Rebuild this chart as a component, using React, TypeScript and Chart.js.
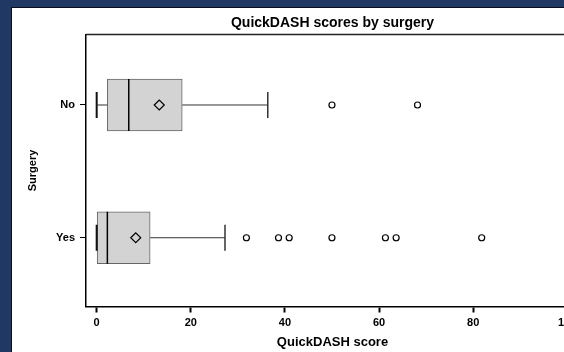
import React, { useEffect, useRef } from "react";
import { Chart, registerables } from "chart.js";

Chart.register(...registerables);

// ---- Data ----
const groups = ["No", "Yes"];
const groupPositions = [1, 0];
const q1Values = [2.27, 0];
const medianValues = [6.82, 2.27];
const q3Values = [18.18, 11.36];
const lowerWhiskers = [0, 0];
const upperWhiskers = [36.36, 27.27];
const meanValues = [13.3, 8.3];
const outliersNo = [50, 68.18];
const outliersYes = [31.82, 38.64, 40.91, 50, 61.36, 63.64, 81.82];
const xTickValues = [0, 20, 40, 60, 80, 100];

// ---- Styles ----
const FONT = '"Liberation Sans", Arial, Helvetica, sans-serif';
const BOX_HALF = 0.196;
const CAP_HALF = 0.098;

const framePlugin = {
  id: "frame",
  afterDraw(chart: any) {
    const { ctx, chartArea } = chart;
    const { left, right, top } = chartArea;
    ctx.save();
    ctx.strokeStyle = "#222";
    ctx.lineWidth = 1.5;
    ctx.beginPath();
    ctx.moveTo(left, top);
    ctx.lineTo(right, top);
    ctx.lineTo(right, chartArea.bottom);
    ctx.stroke();
    ctx.restore();
  },
};

function lineDs(data: any[], color: string, width: number) {
  return {
    type: "scatter" as const,
    data,
    showLine: true,
    pointRadius: 0,
    pointHoverRadius: 0,
    borderColor: color,
    borderWidth: width,
    borderCapStyle: "butt",
    fill: false,
    order: 2,
  };
}

export default function App() {
  const ref = useRef<HTMLCanvasElement | null>(null);

  useEffect(() => {
    if (!ref.current) return;
    Chart.defaults.font.family = FONT;
    Chart.defaults.color = "#000";

    const segments: any[] = [];
    groups.forEach((_g, i) => {
      const y = groupPositions[i];
      segments.push(lineDs([{ x: lowerWhiskers[i], y }, { x: q1Values[i], y }], "#333", 1));
      segments.push(lineDs([{ x: q3Values[i], y }, { x: upperWhiskers[i], y }], "#333", 1));
      segments.push(
        lineDs([{ x: lowerWhiskers[i], y: y - CAP_HALF }, { x: lowerWhiskers[i], y: y + CAP_HALF }], "#111", 2)
      );
      segments.push(
        lineDs([{ x: upperWhiskers[i], y: y - CAP_HALF }, { x: upperWhiskers[i], y: y + CAP_HALF }], "#333", 1.5)
      );
      segments.push(
        lineDs([{ x: medianValues[i], y: y - BOX_HALF }, { x: medianValues[i], y: y + BOX_HALF }], "#000", 1.5)
      );
    });

    const outlierPoints = [
      ...outliersNo.map((x) => ({ x, y: groupPositions[0] })),
      ...outliersYes.map((x) => ({ x, y: groupPositions[1] })),
    ];
    const meanPoints = meanValues.map((x, i) => ({ x, y: groupPositions[i] }));

    const chart = new Chart(ref.current, {
      type: "bar",
      data: {
        datasets: [
          {
            type: "bar",
            indexAxis: "y",
            data: groups.map((_g, i) => ({ x: [q1Values[i], q3Values[i]], y: groupPositions[i] })),
            backgroundColor: "#d3d3d3",
            borderColor: "#666",
            borderWidth: 1,
            borderSkipped: false,
            barThickness: 52,
            order: 3,
          } as any,
          ...segments,
          {
            type: "scatter",
            data: outlierPoints,
            pointStyle: "circle",
            pointRadius: 3,
            pointHoverRadius: 3,
            pointBorderWidth: 1.2,
            pointBorderColor: "#000",
            pointBackgroundColor: "#fff",
            showLine: false,
            order: 1,
          } as any,
          {
            type: "scatter",
            data: meanPoints,
            pointStyle: "rectRot",
            pointRadius: 5,
            pointHoverRadius: 5,
            pointBorderWidth: 1.2,
            pointBorderColor: "#000",
            pointBackgroundColor: "rgba(0,0,0,0)",
            showLine: false,
            order: 0,
          } as any,
        ],
      },
      options: {
        responsive: false,
        animation: false,
        layout: { padding: { left: 0, right: 23, top: 0, bottom: 0 } },
        plugins: {
          legend: { display: false },
          tooltip: { enabled: false },
          title: {
            display: true,
            text: "QuickDASH scores by surgery",
            fullSize: false,
            color: "#000",
            font: { size: 14, weight: "bold", family: FONT },
            padding: { top: 7.1, bottom: 2.6 },
          },
        },
        scales: {
          x: {
            type: "linear",
            position: "bottom",
            offset: false,
            beginAtZero: false,
            min: -2.27,
            max: 102.5,
            afterBuildTicks: (s: any) => {
              s.ticks = xTickValues.map((v) => ({ value: v }));
            },
            afterFit: (s: any) => {
              s.height = 53.5;
            },
            ticks: {
              color: "#000",
              font: { size: 11, weight: "bold", family: FONT },
              padding: 4,
              autoSkip: false,
              maxRotation: 0,
            },
            grid: {
              display: true,
              offset: false,
              drawOnChartArea: false,
              drawTicks: true,
              tickLength: 6,
              tickWidth: 2,
              tickColor: "#000",
            },
            border: { display: true, color: "#000", width: 1.5 },
            title: {
              display: true,
              text: "QuickDASH score",
              color: "#000",
              font: { size: 13, weight: "bold", family: FONT },
              padding: { top: 0, bottom: 10.2 },
            },
          },
          y: {
            type: "linear",
            position: "left",
            offset: false,
            beginAtZero: false,
            min: -0.518,
            max: 1.531,
            afterBuildTicks: (s: any) => {
              s.ticks = groupPositions.map((v) => ({ value: v }));
            },
            afterFit: (s: any) => {
              s.width = 74;
            },
            ticks: {
              color: "#000",
              font: { size: 11, weight: "bold", family: FONT },
              padding: 5,
              autoSkip: false,
              callback: (v: any) => {
                const idx = groupPositions.indexOf(Number(v));
                return idx >= 0 ? groups[idx] : "";
              },
            },
            grid: {
              display: true,
              offset: false,
              drawOnChartArea: false,
              drawTicks: true,
              tickLength: 6,
              tickWidth: 1,
              tickColor: "#000",
            },
            border: { display: true, color: "#000", width: 1.5 },
            title: {
              display: true,
              text: "Surgery",
              color: "#000",
              font: { size: 11, weight: "bold", family: FONT },
              padding: { top: 13.9, bottom: 0 },
            },
          },
        },
      } as any,
      plugins: [framePlugin],
    });

    return () => chart.destroy();
  }, []);

  return (
    <div
      style={{
        position: "fixed",
        left: 0,
        top: 0,
        width: 564,
        height: 352,
        overflow: "hidden",
        background: "#1f3864",
      }}
    >
      <div
        style={{
          position: "absolute",
          left: 11,
          top: 7,
          width: 590,
          height: 360,
          borderLeft: "1px solid #0a0f1a",
          borderTop: "1px solid #0a0f1a",
          background: "#fff",
        }}
      >
        <canvas ref={ref} width={590} height={352} style={{ display: "block", width: 590, height: 352 }} />
      </div>
    </div>
  );
}
